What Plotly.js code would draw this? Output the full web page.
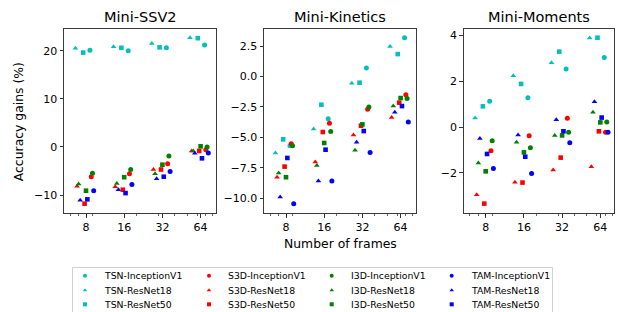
<!DOCTYPE html>
<html>
<head>
<meta charset="utf-8">
<script src="https://cdn.plot.ly/plotly-3.0.1.min.js"></script>
<style>html,body{margin:0;padding:0;background:#fff;}#chart{width:618px;height:312px;}</style>
</head>
<body>
<div id="chart"></div>
<script>
// ---------------- DATA ----------------
const frames = [8, 16, 32, 64];
const xTickVals = [8, 16, 32, 64];
const datasets = ['Mini-SSV2', 'Mini-Kinetics', 'Mini-Moments'];
const models = ['TSN', 'S3D', 'I3D', 'TAM'];
const backbones = ['InceptionV1', 'ResNet18', 'ResNet50'];

// Mini-SSV2
const ssv2_TSN_InceptionV1 = [20.1, 20.0, 20.6, 21.2];
const ssv2_TSN_ResNet18    = [20.5, 20.8, 21.5, 22.7];
const ssv2_TSN_ResNet50    = [19.6, 20.6, 20.7, 22.6];
const ssv2_S3D_InceptionV1 = [-6.2, -5.6, -3.5, -0.6];
const ssv2_S3D_ResNet18    = [-8.2, -8.3, -4.7, -0.85];
const ssv2_S3D_ResNet50    = [-11.8, -8.9, -4.7, -0.85];
const ssv2_I3D_InceptionV1 = [-5.5, -4.7, -1.9, 0.0];
const ssv2_I3D_ResNet18    = [-7.7, -7.6, -5.6, -0.85];
const ssv2_I3D_ResNet50    = [-9.1, -6.3, -3.7, 0.12];
const ssv2_TAM_InceptionV1 = [-9.1, -7.8, -5.1, -1.25];
const ssv2_TAM_ResNet18    = [-11.1, -8.9, -6.6, -1.33];
const ssv2_TAM_ResNet50    = [-10.9, -9.6, -6.2, -2.37];

// Mini-Kinetics
const kin_TSN_InceptionV1 = [-5.68, -3.47, 0.69, 3.18];
const kin_TSN_ResNet18    = [-6.28, -4.31, -0.56, 2.47];
const kin_TSN_ResNet50    = [-5.16, -2.32, -0.51, 1.84];
const kin_S3D_InceptionV1 = [-5.53, -3.85, -2.70, -1.50];
const kin_S3D_ResNet18    = [-8.27, -7.02, -4.81, -3.36];
const kin_S3D_ResNet50    = [-7.40, -4.56, -4.04, -2.15];
const kin_I3D_InceptionV1 = [-5.68, -4.51, -2.51, -1.80];
const kin_I3D_ResNet18    = [-7.93, -7.30, -6.05, -2.43];
const kin_I3D_ResNet50    = [-8.27, -5.46, -3.93, -1.77];
const kin_TAM_InceptionV1 = [-10.45, -8.58, -6.24, -3.73];
const kin_TAM_ResNet18    = [-9.90, -8.58, -5.41, -2.94];
const kin_TAM_ResNet50    = [-6.69, -6.01, -4.48, -2.43];

// Mini-Moments
const mom_TSN_InceptionV1 = [1.13, 1.29, 2.54, 3.05];
const mom_TSN_ResNet18    = [0.40, 2.25, 2.81, 3.90];
const mom_TSN_ResNet50    = [0.91, 1.89, 3.30, 3.91];
const mom_S3D_InceptionV1 = [-1.03, -0.37, 0.39, -0.22];
const mom_S3D_ResNet18    = [-2.95, -2.41, -1.87, -1.73];
const mom_S3D_ResNet50    = [-3.34, -2.42, -1.33, -0.18];
const mom_I3D_InceptionV1 = [-0.59, -0.90, -0.22, 0.23];
const mom_I3D_ResNet18    = [-1.56, -0.66, -0.36, 0.65];
const mom_I3D_ResNet50    = [-1.93, -1.10, -0.36, 0.21];
const mom_TAM_InceptionV1 = [-1.81, -2.02, -0.68, -0.22];
const mom_TAM_ResNet18    = [-0.49, -0.34, 0.33, 1.11];
const mom_TAM_ResNet50    = [-1.17, -1.29, -0.18, 0.42];

const table = {
  'Mini-SSV2': {
    TSN: {InceptionV1: ssv2_TSN_InceptionV1, ResNet18: ssv2_TSN_ResNet18, ResNet50: ssv2_TSN_ResNet50},
    S3D: {InceptionV1: ssv2_S3D_InceptionV1, ResNet18: ssv2_S3D_ResNet18, ResNet50: ssv2_S3D_ResNet50},
    I3D: {InceptionV1: ssv2_I3D_InceptionV1, ResNet18: ssv2_I3D_ResNet18, ResNet50: ssv2_I3D_ResNet50},
    TAM: {InceptionV1: ssv2_TAM_InceptionV1, ResNet18: ssv2_TAM_ResNet18, ResNet50: ssv2_TAM_ResNet50}
  },
  'Mini-Kinetics': {
    TSN: {InceptionV1: kin_TSN_InceptionV1, ResNet18: kin_TSN_ResNet18, ResNet50: kin_TSN_ResNet50},
    S3D: {InceptionV1: kin_S3D_InceptionV1, ResNet18: kin_S3D_ResNet18, ResNet50: kin_S3D_ResNet50},
    I3D: {InceptionV1: kin_I3D_InceptionV1, ResNet18: kin_I3D_ResNet18, ResNet50: kin_I3D_ResNet50},
    TAM: {InceptionV1: kin_TAM_InceptionV1, ResNet18: kin_TAM_ResNet18, ResNet50: kin_TAM_ResNet50}
  },
  'Mini-Moments': {
    TSN: {InceptionV1: mom_TSN_InceptionV1, ResNet18: mom_TSN_ResNet18, ResNet50: mom_TSN_ResNet50},
    S3D: {InceptionV1: mom_S3D_InceptionV1, ResNet18: mom_S3D_ResNet18, ResNet50: mom_S3D_ResNet50},
    I3D: {InceptionV1: mom_I3D_InceptionV1, ResNet18: mom_I3D_ResNet18, ResNet50: mom_I3D_ResNet50},
    TAM: {InceptionV1: mom_TAM_InceptionV1, ResNet18: mom_TAM_ResNet18, ResNet50: mom_TAM_ResNet50}
  }
};

// ---------------- STYLE ----------------
const W = 618, H = 312;
const FONT = 'DejaVu Sans, Verdana, sans-serif';
const modelColor = {TSN: '#00bfbf', S3D: '#ff0000', I3D: '#008000', TAM: '#0000ff'};
const bbSymbol = {InceptionV1: 'circle', ResNet18: 'triangle-up', ResNet50: 'square'};
const bbSize = {InceptionV1: 5, ResNet18: 5, ResNet50: 4.6};
const jitterStep = 0.025;                       // horizontal dodge factor per series
const bbBase = {ResNet18: -7, ResNet50: -2, InceptionV1: 3};
const panelPx = [[64, 216], [264, 416], [463.7, 613.7]];
const plotTop = 29, plotBot = 213;
const xLeftLog2 = 3 - 22 / 38.2, pxPerOct = 38.2;
const yRanges = [[-13.74, 24.51], [-11.21, 3.90], [-3.75, 4.29]];
const yTicks = [[-10, 0, 10, 20], [-10, -7.5, -5, -2.5, 0, 2.5], [-2, 0, 2, 4]];
const yFormats = ['d', '.1f', 'd'];

const traces = [];
datasets.forEach((ds, di) => {
  const ax = di === 0 ? '' : String(di + 1);
  backbones.forEach(bb => {
    models.forEach((m, mi) => {
      const k = bbBase[bb] + mi;
      traces.push({
        type: 'scatter', mode: 'markers',
        x: frames.map(f => f * (1 + jitterStep * k)),
        y: table[ds][m][bb],
        xaxis: 'x' + ax, yaxis: 'y' + ax,
        name: m + '-' + bb, showlegend: false,
        marker: {symbol: bbSymbol[bb], color: modelColor[m], size: bbSize[bb], line: {width: 0}},
        cliponaxis: false
      });
    });
  });
});

// manual legend (column-major like the original)
const legCols = [85, 209, 331.7, 451.7];
const legRows = [275.7, 290.3, 304.3];
const legTextDx = 17;
const legBB = ['InceptionV1', 'ResNet18', 'ResNet50'];
const lx = [], ly = [], lc = [], ls = [];
const annotations = [];
models.forEach((m, ci) => {
  legBB.forEach((bb, ri) => {
    lx.push(legCols[ci]); ly.push(legRows[ri]);
    lc.push(modelColor[m]); ls.push(bbSymbol[bb]);
    annotations.push({
      xref: 'paper', yref: 'paper', x: (legCols[ci] + legTextDx) / W, y: 1 - legRows[ri] / H,
      xanchor: 'left', yanchor: 'middle', showarrow: false, text: m + '-' + bb,
      font: {family: FONT, size: 9.3, color: '#000'}
    });
  });
});
traces.push({
  type: 'scatter', mode: 'markers', x: lx, y: ly, xaxis: 'x4', yaxis: 'y4',
  showlegend: false, hoverinfo: 'skip', cliponaxis: false,
  marker: {symbol: ls, color: lc, size: 4, line: {width: 0}}
});

const layout = {
  width: W, height: H,
  margin: {l: 0, r: 0, t: 0, b: 0},
  paper_bgcolor: '#fff', plot_bgcolor: 'rgba(0,0,0,0)',
  showlegend: false,
  font: {family: FONT, color: '#000', size: 11},
  annotations: annotations,
  shapes: [{
    type: 'rect', xref: 'paper', yref: 'paper',
    x0: 72.5 / W, x1: 552.5 / W, y0: -0.1, y1: 1 - 267.5 / H,
    line: {color: '#d0d0d0', width: 1}, fillcolor: 'rgba(0,0,0,0)'
  }],
  xaxis4: {domain: [0, 1], range: [0, W], visible: false, anchor: 'y4', fixedrange: true},
  yaxis4: {domain: [0, 1], range: [H, 0], visible: false, anchor: 'x4', fixedrange: true}
};

datasets.forEach((ds, di) => {
  const ax = di === 0 ? '' : String(di + 1);
  const [pl, pr] = panelPx[di];
  const rightLog2 = xLeftLog2 + (pr - pl) / pxPerOct;
  layout['xaxis' + ax] = {
    domain: [pl / W, pr / W], anchor: 'y' + ax, type: 'log',
    range: [xLeftLog2 * Math.LN2 / Math.LN10, rightLog2 * Math.LN2 / Math.LN10],
    tickmode: 'array', tickvals: xTickVals, ticktext: xTickVals.map(String),
    ticks: 'outside', ticklen: 3.5, tickwidth: 0.8, tickcolor: '#000',
    minor: {tickvals: [6, 7, 8, 9, 20, 30, 40, 50, 60, 70, 80], ticks: 'outside', ticklen: 2, tickwidth: 0.6, tickcolor: '#000'},
    showline: true, mirror: true, linecolor: '#3a3a3a', linewidth: 1,
    showgrid: false, zeroline: false,
    tickfont: {family: FONT, size: 11, color: '#000'}
  };
  layout['yaxis' + ax] = {
    domain: [1 - plotBot / H, 1 - plotTop / H], anchor: 'x' + ax,
    range: yRanges[di], tickmode: 'array', tickvals: yTicks[di], tickformat: yFormats[di],
    ticks: 'outside', ticklen: 3.5, tickwidth: 0.8, tickcolor: '#000',
    showline: true, mirror: true, linecolor: '#3a3a3a', linewidth: 1,
    showgrid: false, zeroline: false,
    tickfont: {family: FONT, size: 11, color: '#000'}
  };
  annotations.push({
    xref: 'paper', yref: 'paper', x: (pl + pr) / 2 / W, y: 1 - 16.5 / H,
    xanchor: 'center', yanchor: 'middle', showarrow: false, text: ds,
    font: {family: FONT, size: 14.5, color: '#000'}
  });
});

annotations.push({
  xref: 'paper', yref: 'paper', x: 18.5 / W, y: 1 - 121.7 / H, textangle: -90,
  xanchor: 'center', yanchor: 'middle', showarrow: false, text: 'Accuracy gains (%)',
  font: {family: FONT, size: 12.4, color: '#000'}
});
annotations.push({
  xref: 'paper', yref: 'paper', x: 340 / W, y: 1 - 243.5 / H,
  xanchor: 'center', yanchor: 'middle', showarrow: false, text: 'Number of frames',
  font: {family: FONT, size: 12.4, color: '#000'}
});

Plotly.newPlot('chart', traces, layout, {displayModeBar: false, staticPlot: true});
</script>
</body>
</html>
